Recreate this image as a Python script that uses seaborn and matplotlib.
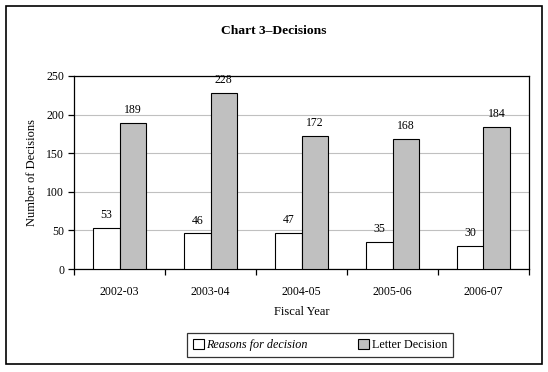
import matplotlib
matplotlib.use('Agg')

import matplotlib.pyplot as plt
import seaborn as sns
import pandas as pd
from matplotlib.patches import Rectangle, Patch

# ================= DATA =================
years = ["2002-03", "2003-04", "2004-05", "2005-06", "2006-07"]
reasons = [53, 46, 47, 35, 30]
letters = [189, 228, 172, 168, 184]
series_names = ["Reasons for decision", "Letter Decision"]

df = pd.DataFrame({
    "year": years * 2,
    "count": reasons + letters,
    "type": [series_names[0]] * len(years) + [series_names[1]] * len(years),
})

# ================= STYLE =================
sns.set_theme(style="white")
plt.rcParams['font.family'] = ['Liberation Serif', 'DejaVu Serif']
plt.rcParams.update({
    "text.color": "black",
    "axes.labelcolor": "black",
    "xtick.color": "black",
    "ytick.color": "black",
})
colors = ["white", "#c0c0c0"]

fig = plt.figure(figsize=(5.48, 3.72), dpi=100)
ax = fig.add_axes([74/548, 1 - 269/372, (529 - 74)/548, (269 - 76)/372])

sns.barplot(data=df, x="year", y="count", hue="type", palette=colors,
            width=0.58, gap=0, edgecolor="black", linewidth=0.8,
            legend=False, ax=ax, zorder=3)

# value labels
for cont in ax.containers:
    ax.bar_label(cont, padding=5, fontsize=8.5, color="black")

ax.set_ylim(0, 250)
ax.set_yticks(range(0, 251, 50))
ax.set_xlim(-0.5, len(years) - 0.5)
ax.yaxis.grid(True, color="#c0c0c0", linewidth=0.8, zorder=0)
ax.set_axisbelow(True)
for s in ax.spines.values():
    s.set_color("black")
    s.set_linewidth(0.9)

# ticks between groups on x
ax.set_xticks(range(len(years)))
ax.set_xticklabels(years)
ax.tick_params(axis="x", length=0, labelsize=8.5, pad=12)
ax.set_xticks([i - 0.5 for i in range(len(years) + 1)], minor=True)
ax.tick_params(axis="x", which="minor", direction="out", length=4,
               width=0.9, color="black", bottom=True)
ax.tick_params(axis="y", direction="out", length=4, width=0.9, left=True,
               labelsize=8.5, pad=3)

ax.set_xlabel("Fiscal Year", fontsize=9, labelpad=6)
ax.set_ylabel("Number of Decisions", fontsize=9, labelpad=6)

fig.text(0.5, 1 - 31/372, "Chart 3\u2013Decisions", ha="center", va="center",
         fontsize=9.7, fontweight="bold", color="black")

# legend
handles = [Patch(facecolor=c, edgecolor="black", linewidth=0.8) for c in colors]
leg = fig.legend(handles, series_names, loc="center",
                 bbox_to_anchor=(320/548, 1 - 345/372), ncol=2,
                 fontsize=8.7, frameon=True, fancybox=False,
                 edgecolor="black", handlelength=0.9, handleheight=0.9,
                 handletextpad=0.2, columnspacing=4.2, borderpad=0.5)
leg.get_frame().set_linewidth(0.9)
leg.get_texts()[0].set_fontstyle("italic")

# outer border
fig.patches.append(Rectangle((6/548, 1 - 364/372), (542 - 6)/548, (364 - 6)/372,
                             transform=fig.transFigure, fill=False,
                             edgecolor="black", linewidth=1.2))

fig.savefig("out.png", dpi=100)
plt.close(fig)
